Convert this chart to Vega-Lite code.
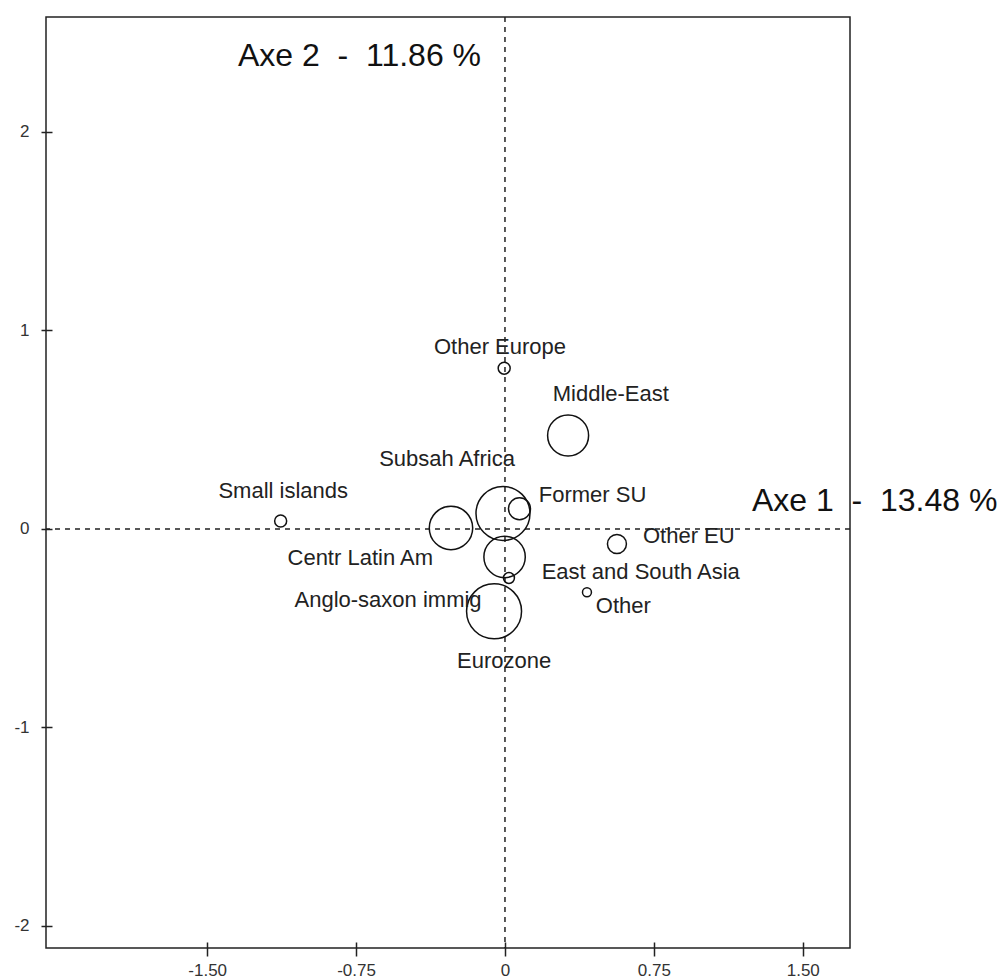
{
  "$schema": "https://vega.github.io/schema/vega-lite/v6.json",
  "width": 804,
  "height": 931,
  "autosize": {"type": "none"},
  "padding": {"left": 46, "top": 17, "right": 149, "bottom": 31},
  "background": "white",
  "config": {
    "font": "Liberation Sans",
    "view": {"stroke": "#222", "strokeWidth": 1.5},
    "axis": {"labelFont": "Liberation Sans", "labelColor": "#333", "tickColor": "#222", "tickWidth": 1.5, "grid": false, "domain": false, "title": null}
  },
  "datasets": {
    "cats": [
      {"name": "Subsah Africa", "x": -0.010, "y": 0.078, "weight": 729, "lx": -0.292, "ly": 0.317},
      {"name": "Eurozone", "x": -0.055, "y": -0.415, "weight": 756, "lx": -0.004, "ly": -0.702},
      {"name": "Centr Latin Am", "x": -0.272, "y": 0.005, "weight": 471, "lx": -0.729, "ly": -0.181},
      {"name": "East and South Asia", "x": -0.002, "y": -0.141, "weight": 428, "lx": 0.684, "ly": -0.253},
      {"name": "Middle-East", "x": 0.318, "y": 0.471, "weight": 420, "lx": 0.533, "ly": 0.646},
      {"name": "Former SU", "x": 0.073, "y": 0.102, "weight": 121, "lx": 0.441, "ly": 0.138},
      {"name": "Other EU", "x": 0.564, "y": -0.076, "weight": 90, "lx": 0.926, "ly": -0.073},
      {"name": "Small islands", "x": -1.130, "y": 0.040, "weight": 36, "lx": -1.117, "ly": 0.155},
      {"name": "Other Europe", "x": -0.004, "y": 0.810, "weight": 36, "lx": -0.025, "ly": 0.882},
      {"name": "Anglo-saxon immig", "x": 0.020, "y": -0.247, "weight": 30, "lx": -0.589, "ly": -0.391},
      {"name": "Other", "x": 0.413, "y": -0.319, "weight": 20, "lx": 0.596, "ly": -0.425}
    ],
    "axes": [
      {"label": "Axe 2\u00a0\u00a0-\u00a0\u00a011.86\u00a0%", "x": -1.345, "y": 2.334},
      {"label": "Axe 1\u00a0\u00a0-\u00a0\u00a013.48\u00a0%", "x": 1.244, "y": 0.092}
    ],
    "origin": [{"x": 0, "y": 0}]
  },
  "layer": [
    {
      "data": {"name": "origin"},
      "mark": {"type": "rule", "strokeDash": [5, 5], "strokeWidth": 1.5, "color": "#222"},
      "encoding": {
        "x": {"field": "x", "type": "quantitative", "scale": {"domain": [-2.312, 1.738], "nice": false, "zero": false},
              "axis": {"values": [-1.5, -0.75, 0, 0.75, 1.5], "labelExpr": "datum.value == 0 ? '0' : (datum.value < 0 ? '-' + format(-datum.value, '.2f') : format(datum.value, '.2f'))", "offset": -6, "tickSize": 14, "labelFontSize": 17, "labelPadding": 6}}
      }
    },
    {
      "data": {"name": "origin"},
      "mark": {"type": "rule", "strokeDash": [5, 5], "strokeWidth": 1.5, "color": "#222"},
      "encoding": {
        "y": {"field": "y", "type": "quantitative", "scale": {"domain": [-2.111, 2.579], "nice": false, "zero": false},
              "axis": {"values": [-2, -1, 0, 1, 2], "labelExpr": "datum.value < 0 ? '-' + format(-datum.value, 'd') : format(datum.value, 'd')", "offset": -6, "tickSize": 11, "labelFontSize": 17, "labelPadding": 12}}
      }
    },
    {
      "data": {"name": "cats"},
      "mark": {"type": "point", "shape": "circle", "filled": false, "stroke": "#111", "strokeWidth": 1.5, "opacity": 1},
      "encoding": {
        "x": {"field": "x", "type": "quantitative", "scale": {"domain": [-2.312, 1.738], "nice": false, "zero": false},
              "axis": {"values": [-1.5, -0.75, 0, 0.75, 1.5], "labelExpr": "datum.value == 0 ? '0' : (datum.value < 0 ? '-' + format(-datum.value, '.2f') : format(datum.value, '.2f'))", "offset": -6, "tickSize": 14, "labelFontSize": 17, "labelPadding": 6}},
        "y": {"field": "y", "type": "quantitative", "scale": {"domain": [-2.111, 2.579], "nice": false, "zero": false},
              "axis": {"values": [-2, -1, 0, 1, 2], "labelExpr": "datum.value < 0 ? '-' + format(-datum.value, 'd') : format(datum.value, 'd')", "offset": -6, "tickSize": 11, "labelFontSize": 17, "labelPadding": 12}},
        "size": {"field": "weight", "type": "quantitative", "scale": {"type": "linear", "domain": [0, 1000], "range": [0, 4000]}, "legend": null}
      }
    },
    {
      "data": {"name": "cats"},
      "mark": {"type": "text", "fontSize": 22, "color": "#222", "align": "center", "baseline": "alphabetic", "font": "Liberation Sans"},
      "encoding": {
        "x": {"field": "lx", "type": "quantitative", "scale": {"domain": [-2.312, 1.738], "nice": false, "zero": false}},
        "y": {"field": "ly", "type": "quantitative", "scale": {"domain": [-2.111, 2.579], "nice": false, "zero": false}},
        "text": {"field": "name", "type": "nominal"}
      }
    },
    {
      "data": {"name": "axes"},
      "mark": {"type": "text", "fontSize": 32, "color": "#111", "align": "left", "baseline": "alphabetic", "font": "Liberation Sans"},
      "encoding": {
        "x": {"field": "x", "type": "quantitative", "scale": {"domain": [-2.312, 1.738], "nice": false, "zero": false}},
        "y": {"field": "y", "type": "quantitative", "scale": {"domain": [-2.111, 2.579], "nice": false, "zero": false}},
        "text": {"field": "label", "type": "nominal"}
      }
    }
  ]
}
